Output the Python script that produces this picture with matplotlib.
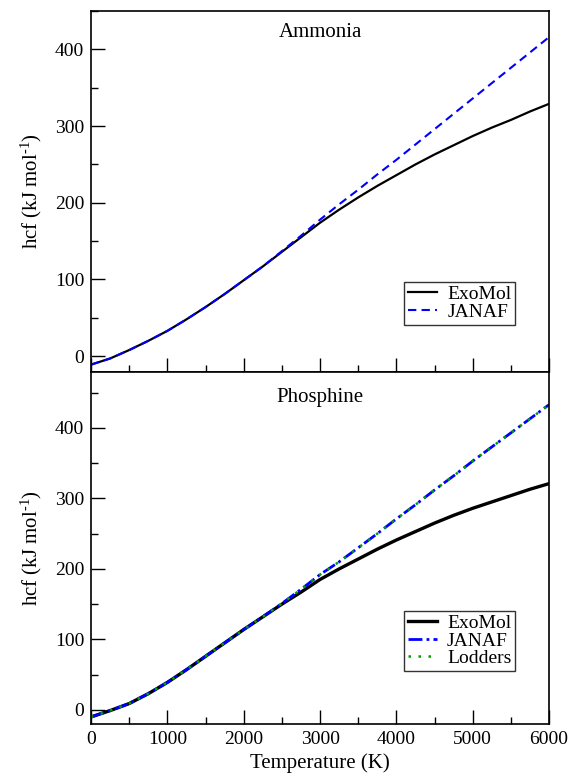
import numpy as np
import matplotlib.pyplot as plt
from matplotlib.ticker import MultipleLocator

plt.rcParams['font.family'] = ['Liberation Serif', 'DejaVu Serif']
plt.rcParams['mathtext.fontset'] = 'custom'
plt.rcParams['mathtext.rm'] = 'Liberation Serif'
plt.rcParams['mathtext.it'] = 'Liberation Serif:italic'

# temperature grid (K)
T = [0, 250, 500, 750, 1000, 1250, 1500, 1750, 2000, 2250, 2500, 2750, 3000,
     3250, 3500, 3750, 4000, 4250, 4500, 4750, 5000, 5250, 5500, 5750, 6000]

# ammonia (kJ/mol)
nh3_exomol = [-11, -3, 8, 20, 33, 48, 64, 81, 99, 117, 136, 155, 174,
              191, 207, 222, 236, 250, 263, 275, 287, 298, 308, 319, 329]
nh3_janaf = [-11, -3, 8, 20, 33, 48, 64, 81, 99, 117, 137, 157, 178,
             198, 217, 237, 256, 276, 296, 316, 336, 356, 376, 396, 416]

# phosphine (kJ/mol)
ph3_exomol = [-10, -1, 9, 23, 39, 57, 76, 95, 114, 132, 150, 167, 185,
              200, 214, 228, 241, 253, 265, 276, 286, 295, 304, 313, 321]
ph3_janaf = [-10, -1, 9, 23, 39, 57, 76, 95, 114, 132, 151, 171, 192,
             210, 230, 250, 271, 291, 312, 332, 353, 373, 393, 413, 433]
ph3_lodders = [-10, -1, 9, 23, 39, 57, 76, 95, 114, 132, 151, 171, 192,
               210, 230, 250, 271, 291, 312, 332, 353, 373, 393, 413, 433]

fig = plt.figure(figsize=(5.69, 7.81), dpi=100)
ax1 = fig.add_axes([0.16, 0.5243, 0.805, 0.4616])
ax2 = fig.add_axes([0.16, 0.073, 0.805, 0.4513])

ax1.plot(T, nh3_exomol, color='black', lw=1.6, label='ExoMol')
ax1.plot(T, nh3_janaf, color='blue', lw=1.5, ls=(0, (4, 2.5)), label='JANAF')

ax2.plot(T, ph3_exomol, color='black', lw=2.4, label='ExoMol')
ax2.plot(T, ph3_janaf, color='blue', lw=2.0, ls=(0, (5, 1.5, 1, 1.5)), label='JANAF')
ax2.plot(T, ph3_lodders, color='#00a000', lw=1.8, ls=(0, (1, 3)), label='Lodders')

ax1.set_ylim(-20, 450)
ax2.set_ylim(-20, 480)

for ax in (ax1, ax2):
    ax.set_xlim(0, 6000)
    ax.xaxis.set_major_locator(MultipleLocator(1000))
    ax.xaxis.set_minor_locator(MultipleLocator(500))
    ax.yaxis.set_major_locator(MultipleLocator(100))
    ax.yaxis.set_minor_locator(MultipleLocator(50))
    ax.tick_params(which='major', direction='in', length=10, width=1,
                   labelsize=14, top=False, right=False, pad=5)
    ax.tick_params(which='minor', direction='in', length=5, width=1,
                   top=False, right=False)
    for s in ax.spines.values():
        s.set_linewidth(1.2)
    ax.set_ylabel(r'hcf (kJ mol$^{\text{-1}}$)', fontsize=15, labelpad=8)
    leg = ax.legend(loc='lower right', bbox_to_anchor=(0.926, 0.13 if ax is ax1 else 0.15),
                    fontsize=14, frameon=True, fancybox=False, handlelength=1.5,
                    handletextpad=0.5, borderpad=0.2, labelspacing=0.0,
                    borderaxespad=0)
    leg.get_frame().set_edgecolor('black')
    leg.get_frame().set_linewidth(1.0)

ax1.tick_params(labelbottom=False)
ax2.set_xlabel('Temperature (K)', fontsize=15, labelpad=4)

ax1.text(0.5, 0.94, 'Ammonia', transform=ax1.transAxes, ha='center', va='center', fontsize=15)
ax2.text(0.5, 0.926, 'Phosphine', transform=ax2.transAxes, ha='center', va='center', fontsize=15)

fig.savefig('out.png', dpi=100)
